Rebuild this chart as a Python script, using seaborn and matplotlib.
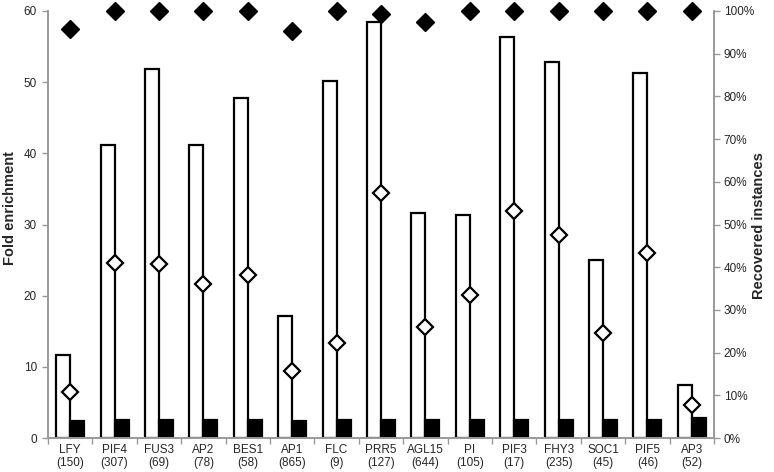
import numpy as np
import pandas as pd
import matplotlib
matplotlib.use("Agg")
import matplotlib.pyplot as plt
from matplotlib.ticker import FixedLocator, NullFormatter, PercentFormatter
import seaborn as sns

# data
factors = ["LFY", "PIF4", "FUS3", "AP2", "BES1", "AP1", "FLC", "PRR5",
           "AGL15", "PI", "PIF3", "FHY3", "SOC1", "PIF5", "AP3"]
counts = [150, 307, 69, 78, 58, 865, 9, 127, 644, 105, 17, 235, 45, 46, 52]
fold_enrichment = [11.7, 41.2, 51.9, 41.2, 47.8, 17.2, 50.1, 58.5,
                   31.6, 31.3, 56.4, 52.8, 25.0, 51.3, 7.5]
background = [2.4, 2.6, 2.6, 2.6, 2.6, 2.4, 2.6, 2.6,
              2.6, 2.6, 2.6, 2.6, 2.6, 2.6, 2.8]
recovered = [10.8, 41.0, 40.7, 36.0, 38.1, 15.7, 22.3, 57.4,
             26.1, 33.5, 53.2, 47.5, 24.5, 43.4, 7.7]
recovered_all = [95.9, 100, 100, 100, 100, 95.4, 100, 99.4,
                 97.5, 100, 100, 100, 100, 100, 100]

labels = [f"{f}\n({c})" for f, c in zip(factors, counts)]

bars = pd.DataFrame({
    "tf": labels * 2,
    "value": fold_enrichment + background,
    "series": ["fold"] * len(labels) + ["bg"] * len(labels),
})

sns.set_theme(style="white")
plt.rcParams["font.family"] = ["Liberation Sans", "DejaVu Sans"]

fig = plt.figure(figsize=(7.74, 4.72), dpi=100)
ax1 = fig.add_axes([0.062, 0.072, 0.8605, 0.9047])
ax2 = ax1.twinx()

sns.barplot(data=bars, x="tf", y="value", hue="series", order=labels,
            palette=["white", "black"], edgecolor="black", linewidth=1.6,
            width=0.63, gap=0, legend=False, ax=ax1)

sns.pointplot(x=labels, y=recovered_all, order=labels, ax=ax2,
              linestyles="none", markers="D", color="black",
              markersize=9.5, markeredgewidth=1)
sns.pointplot(x=labels, y=recovered, order=labels, ax=ax2,
              linestyles="none", markers="D", color="black",
              markerfacecolor="white", markersize=8, markeredgewidth=1.6)
# let the top diamonds spill over the frame like in the original
for line in ax2.lines:
    line.set_clip_on(False)

n = len(labels)
ax1.set_xlim(-0.5, n - 0.5)
ax1.set_ylim(0, 60)
ax2.set_ylim(0, 100)
ax1.set_yticks(range(0, 61, 10))
ax2.set_yticks(range(0, 101, 10))
ax2.yaxis.set_major_formatter(PercentFormatter(decimals=0))

# tick marks between categories, labels centred
ax1.xaxis.set_major_locator(FixedLocator(np.arange(-0.5, n, 1.0)))
ax1.xaxis.set_major_formatter(NullFormatter())
ax1.xaxis.set_minor_locator(FixedLocator(np.arange(n)))
ax1.set_xticklabels(labels, minor=True)
ax1.tick_params(axis="x", which="minor", length=0, labelsize=8.5, pad=4)
ax1.tick_params(axis="x", which="major", length=4, width=1, color="#999999",
                direction="out", bottom=True)

for ax in (ax1, ax2):
    ax.spines["top"].set_visible(False)
    for side in ("left", "right", "bottom"):
        ax.spines[side].set_color("#999999")
        ax.spines[side].set_linewidth(1.2)
ax1.tick_params(axis="y", length=4, width=1, color="#999999", direction="out",
                left=True, labelsize=8.5, pad=4)
ax2.tick_params(axis="y", length=4, width=1, color="#999999", direction="out",
                right=True, labelsize=8.5, pad=3)

ax1.set_xlabel("")
ax2.set_xlabel("")
ax1.set_ylabel("Fold enrichment", fontweight="bold", fontsize=10.5)
ax2.set_ylabel("Recovered instances", fontweight="bold", fontsize=10.5,
               rotation=90)
ax1.yaxis.set_label_coords(-0.047, 0.539)
ax2.yaxis.set_label_coords(1.057, 0.497)
ax1.grid(False)
ax2.grid(False)

fig.savefig("out.png", dpi=100)
